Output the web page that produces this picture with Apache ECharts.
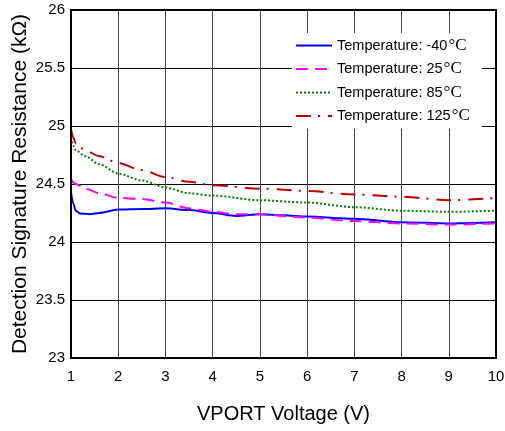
<!DOCTYPE html>
<html>
<head>
<meta charset="utf-8">
<script src="https://cdn.jsdelivr.net/npm/echarts@6/dist/echarts.min.js"></script>
<style>
  html, body { margin: 0; padding: 0; background: #fff; }
  #chart { width: 505px; height: 431px; }
</style>
</head>
<body>
<div id="chart"></div>
<script>
// 数据：电压 (V) 与检测电阻 (kΩ)
var seriesNames = ["-40", "25", "85", "125"];
var xTicks = [1, 2, 3, 4, 5, 6, 7, 8, 9, 10];
var yTicks = [23, 23.5, 24, 24.5, 25, 25.5, 26];

var tMinus40 = [
  [1, 24.43], [1.05, 24.33], [1.1, 24.27], [1.2, 24.245], [1.4, 24.24], [1.6, 24.25],
  [2, 24.28], [2.5, 24.285], [3, 24.29], [3.5, 24.275], [4, 24.25], [4.5, 24.225],
  [5, 24.24], [5.5, 24.23], [6, 24.22], [7, 24.2], [8, 24.17], [9, 24.16], [10, 24.17]
];
var t25 = [
  [1, 24.54], [1.1, 24.5], [1.3, 24.46], [1.6, 24.42], [2, 24.38], [2.5, 24.37],
  [3, 24.34], [3.5, 24.29], [4, 24.26], [4.5, 24.24], [5, 24.24], [6, 24.21],
  [7, 24.18], [8, 24.16], [9, 24.15], [10, 24.16]
];
var t85 = [
  [1, 24.9], [1.05, 24.83], [1.1, 24.79], [1.3, 24.74], [1.6, 24.67], [2, 24.59],
  [2.5, 24.53], [3, 24.47], [3.5, 24.42], [4, 24.4], [5, 24.36], [6, 24.34],
  [7, 24.3], [8, 24.27], [9, 24.26], [10, 24.27]
];
var t125 = [
  [1, 24.97], [1.05, 24.9], [1.1, 24.85], [1.3, 24.79], [1.6, 24.74], [2, 24.68],
  [2.5, 24.62], [3, 24.56], [3.5, 24.52], [4, 24.49], [5, 24.46], [6, 24.44],
  [7, 24.41], [8, 24.39], [9, 24.36], [10, 24.38]
];

(function () {
  var myechart = echarts.init(document.getElementById("chart"));
  var font = "Liberation Sans, Arial, sans-serif";

  function makeSeries(name, data, color, dash) {
    return {
      name: name,
      type: "line",
      data: data,
      smooth: 0.3,
      smoothMonotone: "x",
      symbol: "none",
      lineStyle: { color: color, width: 2, type: dash },
      itemStyle: { color: color },
      z: 3,
    };
  }

  option = {
    animation: false,
    backgroundColor: "#fff",
    grid: {
      left: 71,
      right: 9,
      top: 10,
      bottom: 73,
      outerBoundsMode: "none",
      containLabel: false,
      show: true,
      borderColor: "#000",
      borderWidth: 2,
      z: 4,
    },
    legend: {
      orient: "vertical",
      left: 292,
      top: 33,
      padding: [4, 12, 4, 3],
      backgroundColor: "#fff",
      itemWidth: 36,
      itemHeight: 14,
      itemGap: 6.5,
      itemStyle: { opacity: 0 },
      data: seriesNames.map(function (n) { return "Temperature: " + n; }),
      formatter: function (name) {
        return "{a|" + name + "}{b|°C}";
      },
      textStyle: {
        rich: {
          a: { fontFamily: font, fontSize: 14.5, color: "#000" },
          b: { fontFamily: "Liberation Serif, Times New Roman, serif", fontSize: 17, color: "#000", padding: [0, 0, 0, 1] },
        },
      },
    },
    xAxis: {
      type: "value",
      min: 1,
      max: 10,
      interval: 1,
      name: "VPORT Voltage (V)",
      nameLocation: "middle",
      nameGap: 46,
      nameMoveOverlap: false,
      nameTextStyle: { fontFamily: font, fontSize: 20, color: "#000" },
      axisLine: { show: false },
      axisTick: { show: false },
      axisLabel: { fontFamily: font, fontSize: 15, color: "#000", margin: 11 },
      splitLine: { show: true, lineStyle: { color: "#444", width: 1 } },
    },
    yAxis: {
      type: "value",
      min: yTicks[0],
      max: yTicks[yTicks.length - 1],
      interval: 0.5,
      name: "Detection Signature Resistance (kΩ)",
      nameLocation: "middle",
      nameGap: 40,
      nameMoveOverlap: false,
      nameTextStyle: { fontFamily: font, fontSize: 21, color: "#000" },
      axisLine: { show: false },
      axisTick: { show: false },
      axisLabel: { fontFamily: font, fontSize: 15, color: "#000", margin: 6 },
      splitLine: { show: true, lineStyle: { color: "#000", width: 1 } },
    },
    series: [
      makeSeries("Temperature: -40", tMinus40, "#0000ff", "solid"),
      makeSeries("Temperature: 25", t25, "#ff00ff", [12, 7]),
      makeSeries("Temperature: 85", t85, "#008000", [2, 2]),
      makeSeries("Temperature: 125", t125, "#c00000", [15, 7, 2, 8]),
    ],
  };

  myechart.setOption(option);
  window.addEventListener("resize", function () {
    myechart.resize();
  });
})();
</script>
</body>
</html>
